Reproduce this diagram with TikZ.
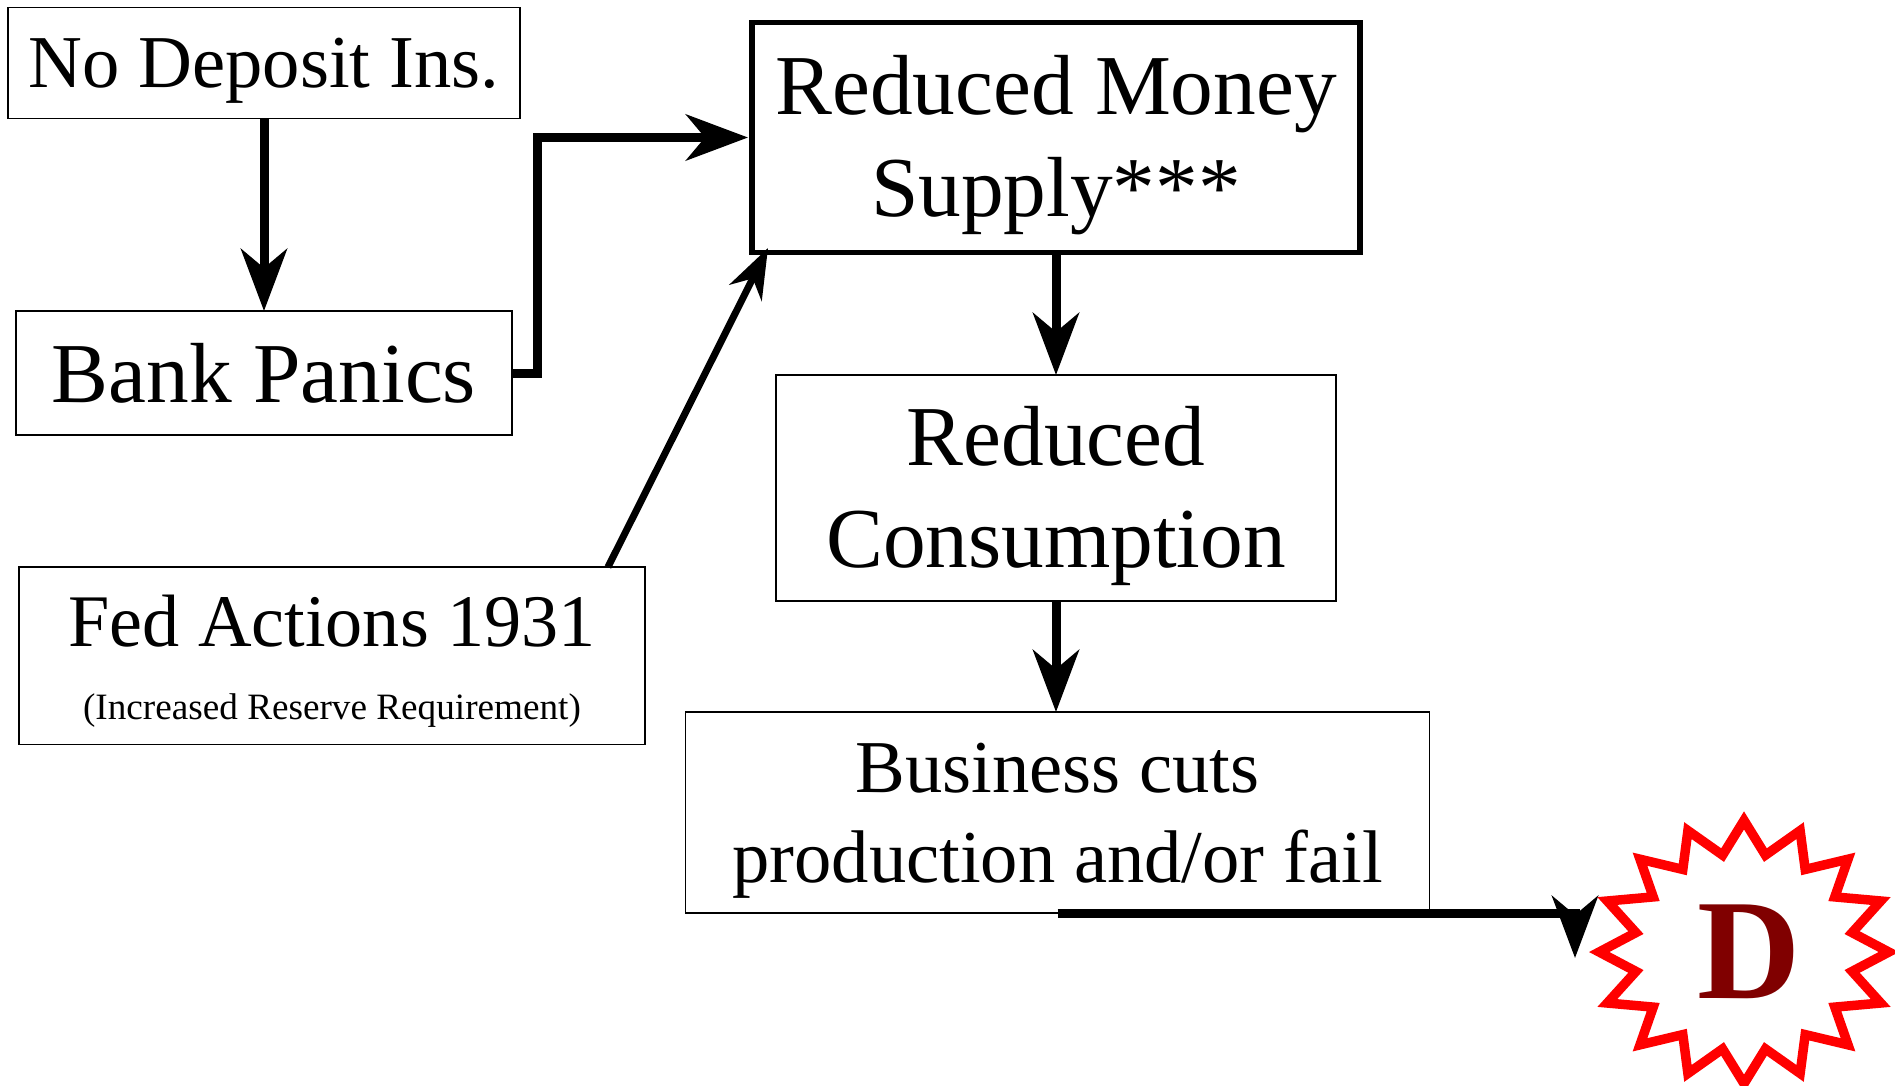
\documentclass[tikz,border=0pt]{standalone}
\usepackage{fontspec}
\setmainfont{Liberation Serif}
\usetikzlibrary{arrows.meta}
\tikzset{
  x=1pt,y=-1pt,
  box/.style={draw=black,line width=1.8pt,fill=white,inner sep=0pt,outer sep=0pt,align=center,anchor=north west,font=\fsA},
  thickbox/.style={box,line width=5.5pt},
  big/.style={-{Stealth[length=62pt,width=46pt,inset=19pt]},line width=9pt,black,miter limit=10},
  slim/.style={-{Stealth[length=50pt,width=36pt,inset=16pt]},line width=7pt,black},
}
\newcommand{\fsA}{\fontsize{85.3}{102}\selectfont}
\newcommand{\fsB}{\fontsize{74.6}{90}\selectfont}
\newcommand{\fsF}{\fontsize{74.2}{90}\selectfont}
\newcommand{\fsC}{\fontsize{37.2}{45}\selectfont}
\newcommand{\tl}[2]{\raisebox{#1}[0pt][0pt]{\begin{tabular}[t]{@{}c@{}}#2\end{tabular}}}
\begin{document}
\begin{tikzpicture}
\useasboundingbox (0,0) rectangle (1895,1085);
\node[box,font=\fsB,minimum width=512pt,minimum height=111pt] (nodep) at (8,7.5) {\tl{-24pt}{No Deposit Ins.}};
\node[box,minimum width=496pt,minimum height=124pt] (panic) at (16,311) {\tl{-29pt}{Bank Panics}};
\node[box,font=\fsF,minimum width=626pt,minimum height=177.5pt] (fed) at (19,567) {\tl{9pt}{Fed Actions 1931\\[-17.5pt]{\fsC (Increased Reserve Requirement)}}};
\node[thickbox,minimum width=608pt,minimum height=230pt] (money) at (752,22.5) {\tl{23.5pt}{Reduced Money\\Supply***}};
\node[box,minimum width=560pt,minimum height=226pt] (cons) at (776,375) {\tl{23pt}{Reduced\\Consumption}};
\node[box,font=\fsB,minimum width=744pt,minimum height=201pt] (biz) at (685.5,712) {\tl{20.5pt}{Business cuts\\production and/or fail}};
\coordinate (fedout) at (608,567);
\coordinate (fedin) at (768,248);
\coordinate (tip) at (1575,958);
\coordinate (bend) at (537,138);
\draw[big] (nodep.south) -- (nodep.south |- panic.north);
\draw[big,shorten >=4pt] (panic.east) -| (bend |- money.west) -- (money.west);
\draw[slim] (fedout) -- (fedin);
\draw[big] (money.south) -- (money.south |- cons.north);
\draw[big] (cons.south) -- (cons.south |- biz.north);
\draw[big] (biz.south) -| (tip);
\draw[red,line width=9.5pt,miter limit=10,fill=white]
 (1744,820.4)--(1765.4,855.1)--(1800.1,830.6)--(1805.2,869.4)--(1848,859.2)--(1834.8,896.9)--(1880.7,901)--(1852.1,932.6)--(1888.8,952)
 --(1852.1,971.4)--(1880.7,1003)--(1834.8,1007.1)--(1848,1044.8)--(1805.2,1034.6)--(1800.1,1073.4)--(1765.4,1048.9)--(1744,1083.6)
 --(1722.6,1048.9)--(1687.9,1073.4)--(1682.8,1034.6)--(1640,1044.8)--(1653.2,1007.1)--(1607.3,1003)--(1635.9,971.4)--(1599.2,952)
 --(1635.9,932.6)--(1607.3,901)--(1653.2,896.9)--(1640,859.2)--(1682.8,869.4)--(1687.9,830.6)--(1722.6,855.1)--cycle;
\node[text=red!50!black,font=\fontsize{143}{143}\selectfont\bfseries,inner sep=0pt] (d) at (1749,952) {D};
\end{tikzpicture}
\end{document}
